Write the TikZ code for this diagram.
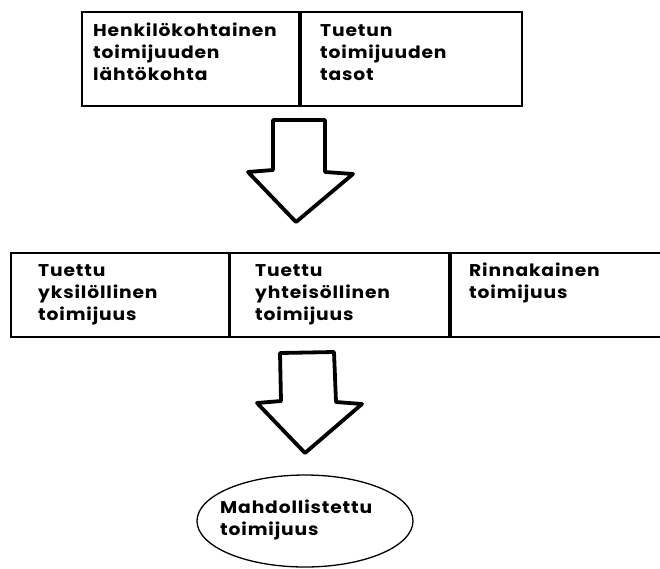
\documentclass[tikz,border=0pt]{standalone}
\usepackage{fontspec}
\setmainfont{Poppins}
\newfontfamily\lblfont{Poppins}[FakeStretch=1.1,LetterSpace=5]
\newcommand\lns[1]{\vtop{\baselineskip=22pt\lineskiplimit=0pt\halign{##\hfil\cr#1\crcr}}}
\usetikzlibrary{shapes.geometric}
\begin{document}
\begin{tikzpicture}[x=1pt,y=-1pt,
  cell/.style={draw=black,line width=1.6pt,rectangle,inner sep=0pt,outer sep=0pt},
  divider/.style={line width=3.2pt},
  lbl/.style={anchor=base west,inner sep=0pt,font=\lblfont\bfseries\fontsize{17}{22}\selectfont},
  blockarrow/.style={draw=black,fill=white,line width=3.8pt,line join=round,line cap=round},
  goal/.style={draw=black,ellipse,line width=1.3pt,minimum width=216pt,minimum height=92pt,inner sep=0pt}]
\useasboundingbox (0,0) rectangle (660,568);
% top row
\node[cell,minimum width=218pt,minimum height=94pt] (top1) at (191,59) {};
\node[cell,minimum width=222pt,minimum height=94pt] (top2) at (411,59) {};
\draw[divider] (top1.north east) -- (top1.south east);
\node[lbl] (top1txt) at (93,36) {\lns{Henkilökohtainen\cr toimijuuden\cr lähtökohta}};
\node[lbl] (top2txt) at (320,36) {\lns{Tuetun\cr toimijuuden\cr tasot}};
% first arrow
\draw[blockarrow] (273,120) -- (325,120) -- (325,172) -- (353,174) -- (296,222) -- (248,172) -- (273,170) -- cycle;
% second row
\node[cell,minimum width=218.5pt,minimum height=84pt] (mid1) at (120.25,295) {};
\node[cell,minimum width=220.5pt,minimum height=84pt] (mid2) at (339.75,295) {};
\node[cell,minimum width=230pt,minimum height=84pt] (mid3) at (565,295) {};
\draw[divider] (mid1.north east) -- (mid1.south east);
\draw[divider] (mid2.north east) -- (mid2.south east);
\node[lbl] (mid1txt) at (38,276) {\lns{Tuettu\cr yksilöllinen\cr toimijuus}};
\node[lbl] (mid2txt) at (255,276) {\lns{Tuettu\cr yhteisöllinen\cr toimijuus}};
\node[lbl] (mid3txt) at (469,276) {\lns{Rinnakainen\cr toimijuus}};
% second arrow
\draw[blockarrow] (280,353) -- (334,352) -- (336,402) -- (362,404) -- (305,453) -- (257,403) -- (281,401) -- cycle;
% goal ellipse
\node[goal] (goal) at (305,521) {};
\node[lbl] (goaltxt) at (220,513) {\lns{Mahdollistettu\cr toimijuus}};
\end{tikzpicture}
\end{document}
